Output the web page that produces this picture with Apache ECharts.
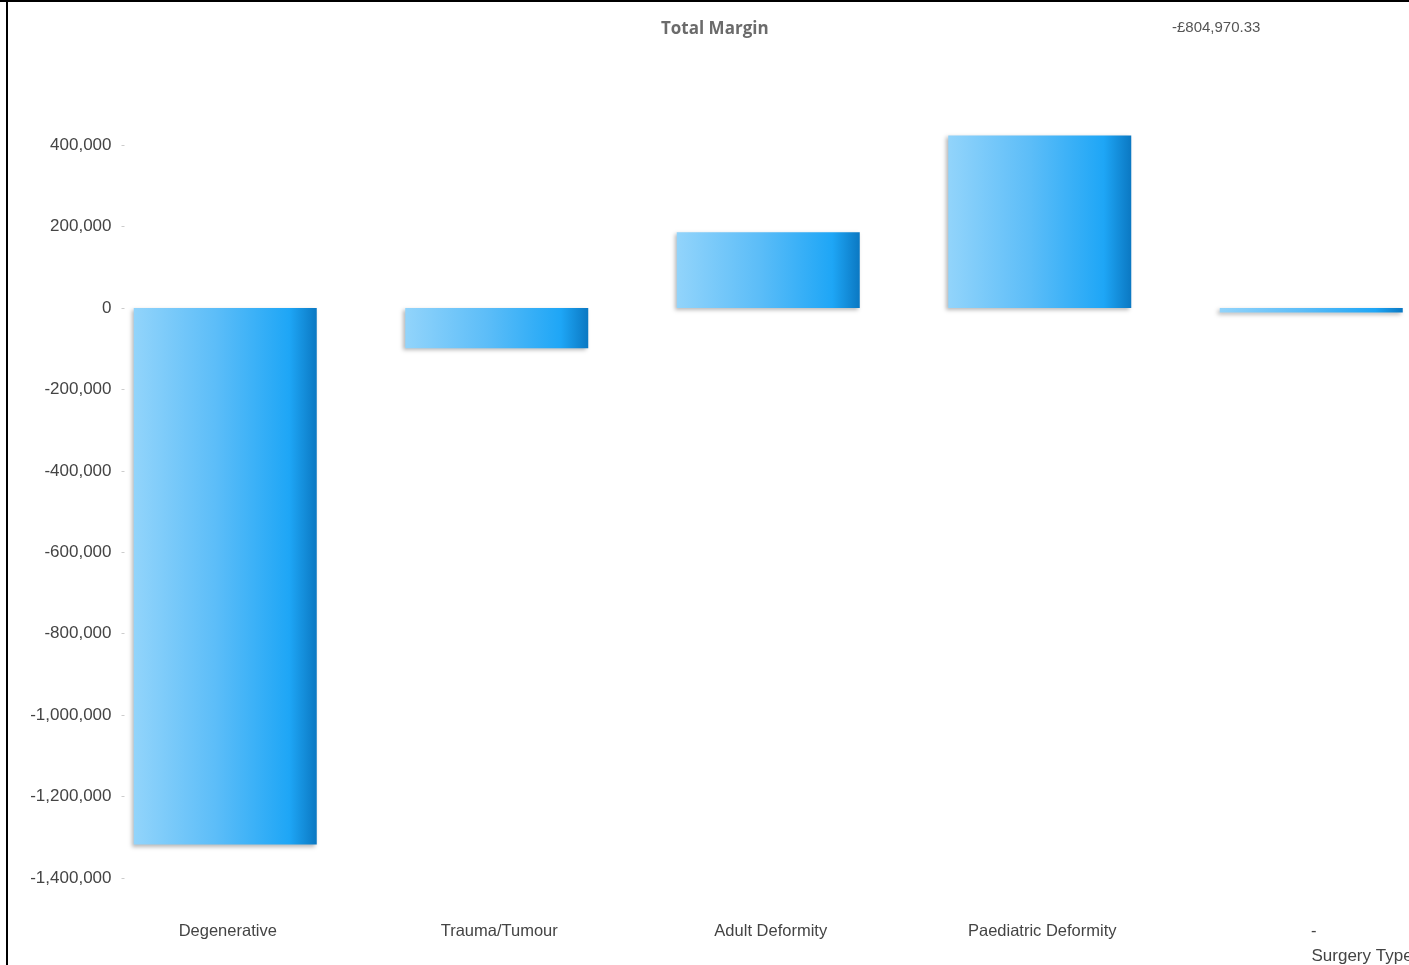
<!DOCTYPE html>
<html>
<head>
<meta charset="utf-8">
<script src="https://cdn.jsdelivr.net/npm/echarts@6/dist/echarts.min.js"></script>
<style>
html,body{margin:0;padding:0;background:#fff;overflow:hidden;width:1409px;height:965px;}
#chart{width:1447px;height:965px;}
</style>
</head>
<body>
<div id="chart"></div>
<script>
const categories = ['Degenerative', 'Trauma/Tumour', 'Adult Deformity', 'Paediatric Deformity', '-'];
const totalMargin = [-1318000, -99000, 186000, 424000, -11000];
const totalLabel = '-£804,970.33';
const chartTitle = 'Total Margin';
const axisName = 'Surgery Type';

const chart = echarts.init(document.getElementById('chart'), null, {renderer: 'canvas'});
const barGradient = new echarts.graphic.LinearGradient(0, 0, 1, 0, [
  {offset: 0, color: '#92d4fb'},
  {offset: 0.45, color: '#5cbdf8'},
  {offset: 0.85, color: '#1ea6f6'},
  {offset: 1, color: '#0b78c2'}
]);
chart.setOption({
  animation: false,
  title: {
    text: chartTitle,
    left: 656, top: 16,
    textStyle: {fontFamily: 'Open Sans', fontWeight: 'bold', fontSize: 17, color: '#6b6b6b'}
  },
  graphic: [
    {type: 'text', left: 1172, top: 20, style: {text: totalLabel, fontFamily: 'Liberation Sans', fontSize: 15, fill: '#555'}},
    {type: 'rect', left: 0, top: 0, shape: {width: 1447, height: 2}, style: {fill: '#000'}},
    {type: 'rect', left: 6, top: 0, shape: {width: 2, height: 965}, style: {fill: '#000'}}
  ],
  grid: {left: 89.5, right: 0, top: 104.5, bottom: 85, containLabel: false},
  xAxis: {
    type: 'category',
    data: categories,
    name: axisName,
    nameLocation: 'end',
    nameGap: -135.5,
    nameTextStyle: {fontFamily: 'Liberation Sans', fontSize: 17, color: '#444', align: 'left', verticalAlign: 'top', padding: [70, 0, 0, 0]},
    axisLine: {show: false, onZero: false},
    axisTick: {show: false},
    axisLabel: {margin: 45, fontFamily: 'Liberation Sans', fontSize: 16.5, color: '#444', interval: 0, padding: [0, 0, 0, 5]},
    splitLine: {show: false}
  },
  yAxis: {
    type: 'value',
    min: -1400000, max: 500000, interval: 200000,
    offset: -35,
    axisLine: {show: false},
    axisTick: {show: true, length: 3, lineStyle: {color: '#ccc'}},
    splitLine: {show: false},
    axisLabel: {
      showMaxLabel: false,
      margin: 13, fontFamily: 'Liberation Sans', fontSize: 17, color: '#444',
      formatter: v => v.toLocaleString('en-US')
    }
  },
  series: [{
    type: 'bar',
    data: totalMargin,
    barWidth: 183,
    itemStyle: {
      color: barGradient,
      shadowColor: 'rgba(0,0,0,0.28)',
      shadowBlur: 4,
      shadowOffsetX: -2,
      shadowOffsetY: 2
    }
  }]
});
</script>
</body>
</html>
